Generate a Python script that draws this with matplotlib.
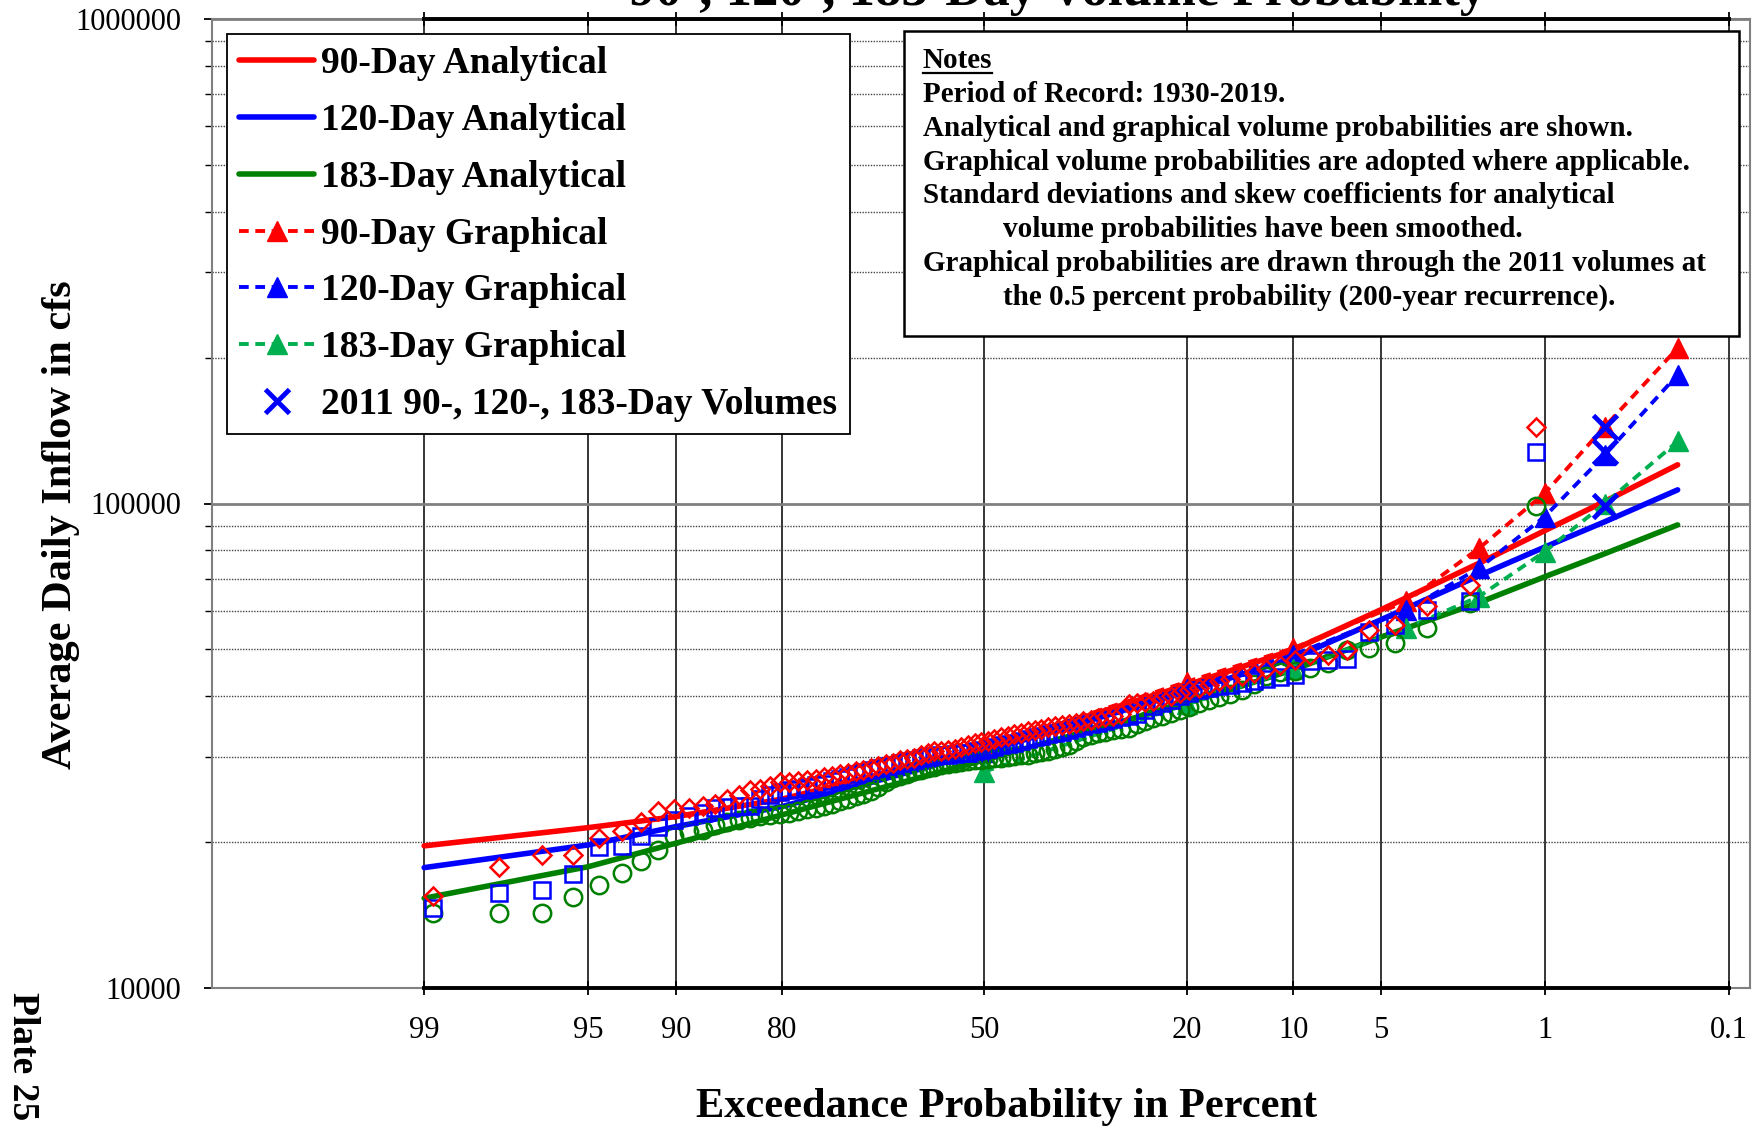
import numpy as np
import matplotlib
matplotlib.use("Agg")
import matplotlib.pyplot as plt
from matplotlib.patches import Rectangle
from matplotlib.lines import Line2D
from matplotlib.ticker import FixedLocator, LogLocator, FuncFormatter, NullLocator, NullFormatter
from statistics import NormalDist

plt.rcParams["font.family"] = ["Liberation Serif", "DejaVu Serif"]

# ---- values ----
n_years = 90
rank = np.arange(1, n_years + 1)
exceed_obs = 100 * rank / (n_years + 1)   # Weibull plotting position, rank 1 = largest

vol90_obs = [144000, 67900, 61300, 56200, 54800, 49900, 48700, 48600, 47600, 46500,
             45500, 44600, 44000, 43500, 43000, 42200, 41700, 41300, 40600, 40000,
             39600, 39200, 39000, 38800, 38600, 36700, 36500, 36200, 36000, 35800,
             35500, 35300, 35100, 34900, 34700, 34500, 34300, 34100, 33900, 33600,
             33400, 33100, 32900, 32600, 32400, 32200, 32000, 31700, 31400, 31200,
             31000, 30900, 30800, 30500, 30200, 29900, 29700, 29500, 29200, 29000,
             28700, 28400, 28200, 28000, 27800, 27600, 27400, 27200, 27000, 26900,
             26700, 26650, 26600, 26100, 25800, 25600, 25000, 24500, 24000, 23700,
             23500, 23400, 23200, 22000, 21100, 20400, 18800, 18800, 17800, 15500]

vol120_obs = [128000, 62800, 60300, 56200, 54400, 47800, 47500, 47200, 44300, 43900,
              43500, 43100, 42700, 42300, 42000, 41600, 41200, 40600, 40000, 39300,
              38800, 38200, 37500, 36700, 36500, 36200, 35900, 35600, 35300, 35000,
              34700, 34400, 34100, 33800, 33600, 33400, 33200, 32900, 32600, 32300,
              32000, 31900, 31700, 31500, 31200, 31000, 30800, 30600, 30500, 30400,
              30300, 30200, 30100, 30000, 29800, 29600, 29400, 29200, 28900, 28700,
              28400, 28200, 27900, 27600, 27300, 27000, 26700, 26400, 26200, 26000,
              25800, 25600, 25400, 25000, 24600, 23800, 23700, 23600, 23500, 23000,
              22700, 22200, 21500, 20600, 19600, 19500, 17200, 15900, 15700, 14600]

vol183_obs = [98600, 62300, 55300, 51500, 50300, 49900, 46800, 45700, 45200, 44800,
              44000, 42500, 41200, 40500, 39800, 39300, 38800, 38000, 37500, 37000,
              36500, 36000, 35500, 35000, 34400, 34200, 34000, 33800, 33600, 33300,
              33000, 32400, 31700, 31400, 31100, 30900, 30700, 30500, 30300, 30200,
              30100, 30000, 29900, 29800, 29700, 29600, 29500, 29400, 29300, 29200,
              29000, 28800, 28600, 28400, 28200, 28000, 27700, 27400, 27100, 26600,
              26000, 25500, 25200, 24900, 24600, 24300, 24000, 23700, 23500, 23400,
              23200, 23000, 22900, 22800, 22600, 22400, 22200, 22000, 21700, 21200,
              21000, 20600, 19300, 18300, 17300, 16300, 15400, 14300, 14300, 14300]

prob_analytical = [99, 95, 90, 80, 50, 20, 10, 5, 2, 1, 0.5, 0.2]
vol90_analytical = [19650, 21430, 22580, 24530, 31250, 42230, 49860, 60320, 75300, 87900, 101000, 120200]
vol120_analytical = [17720, 19740, 21530, 23680, 30750, 40900, 47950, 57510, 71000, 81300, 91700, 106700]
vol183_analytical = [15320, 17800, 19900, 22760, 29560, 38710, 45360, 52970, 62450, 70600, 78800, 90340]

prob_graphical = [50, 20, 10, 4, 2, 1, 0.5, 0.2]
vol90_graphical = [31250, 42890, 50270, 62770, 80870, 105000, 144100, 209300]
vol120_graphical = [30750, 41500, 48700, 60320, 73550, 93970, 126000, 184400]
vol183_graphical = [27970, 38500, 45500, 55290, 64270, 79570, 100000, 134300]

prob_2011 = [0.5, 0.5, 0.5]
vol_2011 = [144000, 128000, 99000]

x_ticks = [99, 95, 90, 80, 50, 20, 10, 5, 1, 0.1]
x_ticklabels = ["99", "95", "90", "80", "50", "20", "10", "5", "1", "0.1"]

notes = [
    ("Period of Record: 1930-2019.", False),
    ("Analytical and graphical volume probabilities are shown.", False),
    ("Graphical volume probabilities are adopted where applicable.", False),
    ("Standard deviations and skew coefficients for analytical", False),
    ("volume probabilities have been smoothed.", True),
    ("Graphical probabilities are drawn through the 2011 volumes at", False),
    ("the 0.5 percent probability (200-year recurrence).", True),
]

RED = "#FF0000"
BLUE = "#0000FF"
GREEN = "#008000"
GREEN_G = "#00B050"

# normal probability scale for exceedance percent
_nd = NormalDist()
_ppf = np.vectorize(lambda p: _nd.inv_cdf(min(max(p / 100.0, 1e-9), 1 - 1e-9)), otypes=[float])
_cdf = np.vectorize(lambda z: 100.0 * _nd.cdf(z), otypes=[float])


def prob_forward(p):
    return _ppf(np.asarray(p, dtype=float))


def prob_inverse(z):
    return _cdf(np.asarray(z, dtype=float))


fig = plt.figure(figsize=(17.54, 11.26), dpi=100)
ax = fig.add_axes([212 / 1754, 1 - 988 / 1126, 1538 / 1754, 969 / 1126])

ax.set_xscale("function", functions=(prob_forward, prob_inverse))
ax.set_yscale("log")
ax.set_xlim(99.933, 0.074)
ax.set_ylim(1e4, 1e6)

# analytical curves
ax.plot(prob_analytical, vol90_analytical, color=RED, lw=4, solid_capstyle="round",
        label="90-Day Analytical", zorder=2)
ax.plot(prob_analytical, vol120_analytical, color=BLUE, lw=4, solid_capstyle="round",
        label="120-Day Analytical", zorder=2)
ax.plot(prob_analytical, vol183_analytical, color=GREEN, lw=4, solid_capstyle="round",
        label="183-Day Analytical", zorder=2)

# graphical curves
dash = (2.5, 1.7)
ax.plot(prob_graphical, vol90_graphical, color=RED, lw=2.8, dashes=dash, marker="^",
        ms=15, label="90-Day Graphical", zorder=2.5)
ax.plot(prob_graphical, vol120_graphical, color=BLUE, lw=2.8, dashes=dash, marker="^",
        ms=15, label="120-Day Graphical", zorder=2.5)
ax.plot(prob_graphical, vol183_graphical, color=GREEN_G, lw=2.8, dashes=dash, marker="^",
        ms=15, label="183-Day Graphical", zorder=2.5)

# observed volumes
ax.plot(exceed_obs, vol183_obs, ls="none", marker="o", ms=12.5, mfc="none", mec=GREEN,
        mew=1.8, label="_nolegend_", zorder=3)
ax.plot(exceed_obs, vol120_obs, ls="none", marker="s", ms=12, mfc="none", mec=BLUE,
        mew=1.8, label="_nolegend_", zorder=3)
ax.plot(exceed_obs, vol90_obs, ls="none", marker="D", ms=9, mfc="none", mec=RED,
        mew=1.8, label="_nolegend_", zorder=3)

ax.plot(prob_2011, vol_2011, ls="none", marker="x", ms=17, mec=BLUE, mew=3.5,
        label="2011 90-, 120-, 183-Day Volumes", zorder=4)

# axes styling
ax.xaxis.set_major_locator(FixedLocator(x_ticks))
ax.xaxis.set_major_formatter(FuncFormatter(lambda v, pos: x_ticklabels[pos] if pos is not None and pos < len(x_ticklabels) else ""))
ax.xaxis.set_minor_locator(NullLocator())
ax.yaxis.set_major_locator(FixedLocator([1e4, 1e5, 1e6]))
ax.yaxis.set_major_formatter(FuncFormatter(lambda v, pos: f"{v:.0f}"))
ax.yaxis.set_minor_locator(LogLocator(base=10, subs=np.arange(2, 10)))
ax.yaxis.set_minor_formatter(NullFormatter())

ax.tick_params(axis="x", which="major", direction="inout", length=10, width=1.3,
               top=True, labelsize=22, pad=15)
ax.tick_params(axis="y", which="major", direction="out", length=6, width=1.3,
               labelsize=22, pad=16)
ax.tick_params(axis="y", which="minor", direction="out", length=5, width=1.0)

ax.grid(which="minor", axis="y", color="#444444", lw=1.0, ls=(0, (1, 1)))
ax.grid(which="major", axis="y", color="#808080", lw=2.0)
ax.grid(which="major", axis="x", color="black", lw=1.1)
ax.set_axisbelow(True)

for side in ax.spines.values():
    side.set_color("#808080")
    side.set_linewidth(1.5)
for yy in (0, 1):
    ax.plot([x_ticks[0], x_ticks[-1]], [yy, yy], transform=ax.get_xaxis_transform(),
            color="black", lw=2.8, clip_on=False, zorder=5)

ax.set_xlabel("Exceedance Probability in Percent", fontsize=30.5, fontweight="bold")
ax.xaxis.set_label_coords(0.5167, -0.123)
ax.xaxis.label.set_va("center")
ax.set_ylabel("Average Daily Inflow in cfs", fontsize=30.5, fontweight="bold")
ax.yaxis.set_label_coords(-0.098, 0.478)
ax.yaxis.label.set_va("center")

leg = ax.legend(loc="upper left", bbox_to_anchor=(227 / 1754, 1 - 34 / 1126),
                bbox_transform=fig.transFigure, frameon=True,
                fancybox=False, framealpha=1, edgecolor="black", borderaxespad=0,
                borderpad=0.33, handlelength=2.0, handletextpad=0.18, labelspacing=0.58,
                numpoints=1, prop={"weight": "bold", "size": 27})
leg.get_frame().set_linewidth(1.3)
leg.set_zorder(10)

# title (cut off at the top edge of the plate)
fig.text(0.603, 1 - 5.5 / 1126, "90-, 120-, 183-Day Volume Probability", ha="center",
         va="baseline", fontsize=38, fontweight="bold")

fig.text(0.0131, 0.062, "Plate 25", rotation=-90, ha="center", va="center",
         fontsize=27, fontweight="bold")

# notes box
fig.add_artist(Rectangle((904 / 1754, 1 - 336 / 1126), (1739 - 904) / 1754, (336 - 31) / 1126,
                         transform=fig.transFigure, facecolor="white", edgecolor="black",
                         lw=1.8, zorder=10))
x_note = 923 / 1754
x_indent = 1003 / 1754
head = fig.text(x_note, 1 - 58 / 1126, "Notes", ha="left", va="center_baseline",
                fontsize=21, fontweight="bold", zorder=11)
for i, (line, indent) in enumerate(notes):
    fig.text(x_indent if indent else x_note, 1 - (58 + 33.7 * (i + 1)) / 1126, line,
             ha="left", va="center_baseline", fontsize=21, fontweight="bold", zorder=11)

fig.canvas.draw()
bb = head.get_window_extent(fig.canvas.get_renderer()).transformed(fig.transFigure.inverted())
fig.add_artist(Line2D([bb.x0, bb.x1], [bb.y0 + 0.001, bb.y0 + 0.001], transform=fig.transFigure,
                      color="black", lw=1.6, zorder=11))

fig.savefig("out.png", dpi=100)
